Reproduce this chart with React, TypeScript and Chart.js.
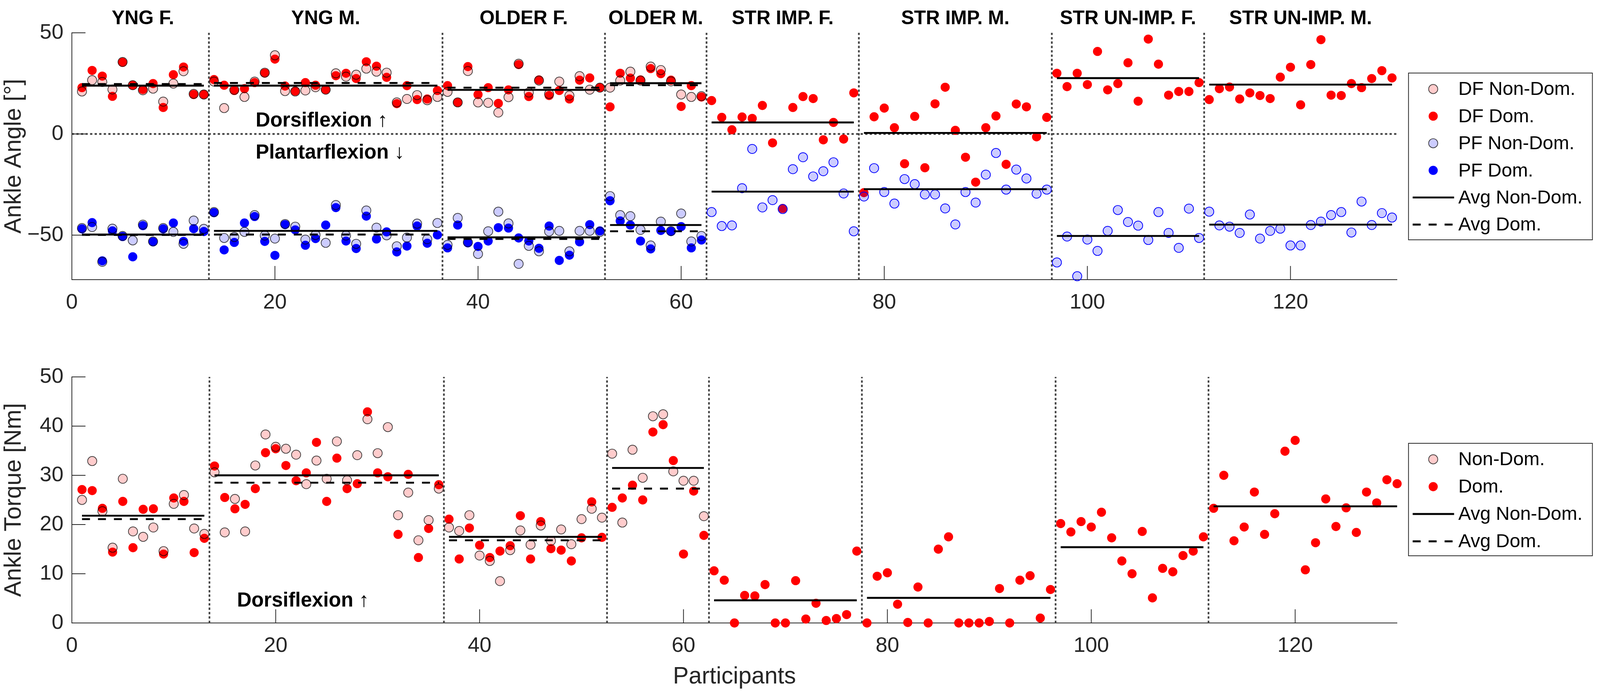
import React, { useEffect, useRef, useState } from "react";
import { Chart, registerables } from "chart.js";

Chart.register(...registerables);

// ---------------- DATA ----------------
const GROUP_NAMES = ["YNG F.", "YNG M.", "OLDER F.", "OLDER M.", "STR IMP. F.", "STR IMP. M.", "STR UN-IMP. F.", "STR UN-IMP. M."];
const GROUP_START = [1, 14, 37, 53, 63, 78, 97, 112];
const GROUP_END = [13, 36, 52, 62, 77, 96, 111, 130];
const DIVIDERS = [13.5, 36.5, 52.5, 62.5, 77.5, 96.5, 111.5];
const X_TICKS = [0, 20, 40, 60, 80, 100, 120];
const ANGLE_TICKS = [-50, 0, 50];
const TORQUE_TICKS = [0, 10, 20, 30, 40, 50];

// Ankle angle, dorsiflexion, non-dominant (participants 1-62)
const DF_NONDOM = [
  21.0, 26.6, 25.7, 22.0, 35.6, 24.1, 21.6, 22.4, 16.0, 24.9, 31.0, 19.8, 19.5,
  25.9, 12.8, 21.8, 18.3, 25.9, 30.3, 38.9, 21.2, 21.0, 21.5, 23.1, 21.9, 30.0, 28.3, 29.3, 32.3, 30.8, 30.3, 15.6, 17.3, 19.2, 16.7, 18.3,
  20.8, 15.6, 31.1, 15.6, 15.4, 10.6, 18.2, 34.7, 20.5, 26.4, 19.8, 25.9, 19.0, 28.6, 21.9, 22.9,
  22.9, 26.4, 30.8, 26.4, 33.3, 31.6, 26.0, 19.5, 18.3, 18.7,
];
// Ankle angle, dorsiflexion, dominant (participants 1-130)
const DF_DOM = [
  22.9, 31.4, 28.6, 18.6, 35.4, 24.1, 22.0, 24.9, 13.1, 29.3, 33.1, 19.5, 19.5,
  26.9, 24.1, 21.5, 22.4, 25.4, 30.1, 37.0, 23.7, 21.2, 25.4, 24.1, 21.9, 28.8, 30.0, 27.4, 35.7, 33.5, 28.0, 15.0, 23.9, 17.0, 17.3, 21.5,
  23.9, 15.6, 33.3, 19.5, 22.9, 15.1, 21.8, 34.3, 18.5, 26.7, 19.0, 21.5, 17.3, 26.6, 27.7, 22.9,
  13.4, 30.0, 27.6, 26.7, 32.3, 29.8, 26.6, 13.6, 23.9, 18.3,
  16.5, 8.2, 2.1, 8.4, 7.7, 14.1, -4.4, -36.8, 13.1, 18.5, 17.5, -2.9, 5.7, -2.5, 20.3,
  -29.0, 8.5, 12.8, 3.1, -14.7, 8.7, -16.7, 14.9, 23.1, 1.8, -11.5, -23.8, 3.1, 8.9, -15.0, 14.8, 13.4, -1.4, 8.2,
  30.0, 23.4, 30.0, 24.4, 40.8, 21.8, 24.9, 35.2, 16.2, 46.9, 34.5, 19.2, 21.0, 21.0, 25.4,
  17.0, 22.4, 23.2, 17.3, 20.3, 19.0, 17.5, 28.1, 33.0, 14.4, 34.3, 46.6, 19.2, 19.0, 24.9, 22.9, 27.4, 31.3, 27.7,
];
// Ankle angle, plantarflexion, non-dominant (participants 1-130)
const PF_NONDOM = [
  -46.5, -46.0, -63.2, -46.8, -50.4, -52.6, -44.8, -53.1, -46.5, -48.4, -54.3, -42.8, -46.9,
  -38.6, -51.4, -50.9, -48.4, -40.1, -50.2, -51.7, -44.5, -45.8, -52.2, -49.9, -53.8, -35.1, -50.2, -54.3, -37.8, -46.3, -50.1, -55.5, -51.2, -44.3, -52.0, -44.0,
  -54.8, -41.5, -53.5, -59.3, -48.1, -38.4, -44.2, -64.2, -55.3, -58.0, -48.2, -47.9, -58.0, -47.9, -47.9, -48.4,
  -30.7, -40.1, -40.6, -47.4, -55.1, -43.3, -48.0, -39.3, -53.1, -50.4,
  -38.6, -45.5, -45.2, -26.8, -7.4, -36.3, -32.7, -37.1, -17.4, -11.5, -21.0, -18.4, -14.0, -29.4, -48.1,
  -30.9, -16.9, -28.7, -34.4, -22.3, -24.8, -29.9, -29.9, -36.8, -44.7, -28.7, -33.9, -20.1, -9.4, -27.5, -17.6, -22.0, -29.5, -27.5,
  -63.5, -50.7, -70.3, -52.2, -57.8, -47.9, -37.6, -43.5, -45.3, -52.4, -38.6, -48.9, -56.3, -36.9, -51.4,
  -38.4, -45.2, -45.8, -48.9, -39.8, -51.7, -47.9, -46.8, -55.1, -55.1, -45.0, -43.3, -40.1, -38.6, -48.7, -33.4, -45.0, -39.1, -41.3,
];
// Ankle angle, plantarflexion, dominant (participants 1-62)
const PF_DOM = [
  -46.9, -43.8, -62.7, -47.9, -50.7, -60.7, -45.3, -53.3, -46.9, -44.0, -53.1, -46.8, -48.2,
  -38.9, -57.3, -53.6, -44.0, -40.8, -53.1, -60.0, -44.8, -47.4, -55.0, -51.7, -45.0, -36.4, -52.9, -56.6, -40.6, -51.9, -48.4, -58.3, -55.4, -45.5, -54.0, -49.9,
  -56.3, -45.0, -53.8, -55.6, -52.9, -46.3, -46.5, -51.4, -52.9, -56.5, -45.5, -62.5, -59.9, -53.3, -44.8, -47.9,
  -33.0, -43.0, -45.0, -52.9, -56.8, -47.7, -48.2, -45.8, -56.3, -52.4,
];
// Group averages for the angle panel
const DF_AVG_NONDOM = [23.9, 23.9, 21.8, 25.1, 5.7, 0.5, 27.6, 24.4];
const DF_AVG_DOM = [24.7, 25.2, 22.9, 24.1, null, null, null, null];
const PF_AVG_NONDOM = [-49.7, -47.9, -51.1, -45.0, -28.5, -27.3, -50.4, -44.8];
const PF_AVG_DOM = [-49.9, -49.7, -51.9, -48.1, null, null, null, null];

// Ankle torque, non-dominant (participants 1-62)
const TQ_NONDOM = [
  25.0, 32.9, 22.7, 15.3, 29.3, 18.6, 17.5, 19.4, 14.6, 24.2, 26.0, 19.2, 18.1,
  30.6, 18.4, 25.2, 18.6, 32.0, 38.3, 35.8, 35.4, 34.2, 28.2, 33.0, 29.3, 36.9, 29.0, 34.1, 41.4, 34.5, 39.8, 21.9, 26.5, 16.8, 20.9, 27.3,
  19.4, 18.7, 21.9, 13.7, 12.6, 8.5, 14.8, 18.8, 15.9, 19.8, 16.7, 19.0, 16.0, 21.1, 23.2, 21.4,
  34.4, 20.4, 35.2, 29.5, 42.0, 42.4, 30.8, 28.9, 28.9, 21.7,
];
// Ankle torque, dominant (participants 1-130)
const TQ_DOM = [
  27.1, 26.9, 23.3, 14.4, 24.7, 15.3, 23.1, 23.2, 14.0, 25.4, 24.7, 14.3, 17.2,
  31.9, 25.5, 23.2, 24.1, 27.3, 34.6, 35.4, 32.0, 28.9, 30.5, 36.7, 24.7, 33.5, 27.3, 28.3, 42.9, 30.5, 29.7, 18.0, 30.2, 13.3, 19.2, 28.1,
  21.1, 13.0, 19.3, 15.8, 13.3, 14.6, 15.7, 21.8, 13.0, 20.6, 15.1, 14.8, 12.6, 17.3, 24.6, 17.4,
  23.5, 25.4, 28.0, 25.0, 38.8, 40.3, 33.0, 14.0, 26.8, 17.8,
  10.6, 8.7, 0, 5.6, 5.5, 7.8, 0, 0, 8.6, 0.8, 4.0, 0.5, 0.9, 1.7, 14.6,
  0, 9.5, 10.2, 3.8, 0.1, 7.3, 0, 15.0, 17.5, 0, 0, 0, 0.3, 7.0, 0, 8.7, 9.6, 1.0, 6.8,
  20.2, 18.5, 20.6, 19.5, 22.5, 17.3, 12.6, 10.0, 18.6, 5.1, 11.1, 10.4, 13.7, 14.6, 17.5,
  23.3, 30.0, 16.7, 19.5, 26.6, 18.0, 22.2, 34.9, 37.1, 10.8, 16.3, 25.2, 19.6, 23.4, 18.4, 26.6, 24.4, 29.1, 28.3,
];
const TQ_AVG_NONDOM = [21.8, 30.0, 17.5, 31.5, 4.6, 5.1, 15.4, 23.7];
const TQ_AVG_DOM = [21.1, 28.5, 16.8, 27.3, null, null, null, null];

const LEGEND_TOP = ["DF Non-Dom.", "DF Dom.", "PF Non-Dom.", "PF Dom.", "Avg Non-Dom.", "Avg Dom."];
const LEGEND_BOTTOM = ["Non-Dom.", "Dom.", "Avg Non-Dom.", "Avg Dom."];

// ---------------- STYLE ----------------
const FONT = "'Liberation Sans', Arial, Helvetica, sans-serif";
const AXIS_COLOR = "#262626";
const RED = "#FF0000";
const BLUE = "#0000FF";
const PINK_FILL = "rgba(255,0,0,0.2)";
const LAV_FILL = "rgba(0,0,255,0.2)";
const EDGE = "rgba(0,0,0,0.72)";
const DOT_COLOR = "#444444";
const REF_W = 4211;
const REF_H = 1782;

type Geo = { W: number; H: number; sx: number; sy: number; s: number };

function getGeo(): Geo {
  const W = Math.min(REF_W, window.innerWidth || REF_W);
  const H = Math.min(REF_H, window.innerHeight || REF_H);
  const sx = W / REF_W;
  const sy = H / REF_H;
  return { W, H, sx, sy, s: Math.min(sx, sy) };
}

const pts = (arr: (number | null)[]) => arr.map((v, i) => ({ x: i + 1, y: v }));

function avgSegments(...lists: (number | null)[][]) {
  const out: { x: number; y: number | null }[] = [];
  lists.forEach((list) => {
    list.forEach((v, i) => {
      if (v === null) return;
      out.push({ x: GROUP_START[i], y: v });
      out.push({ x: GROUP_END[i], y: v });
      out.push({ x: GROUP_END[i], y: null });
    });
  });
  return out;
}

function dividerSegments(yMin: number, yMax: number) {
  const out: { x: number; y: number | null }[] = [];
  DIVIDERS.forEach((d) => {
    out.push({ x: d, y: yMin });
    out.push({ x: d, y: yMax });
    out.push({ x: d, y: null });
  });
  return out;
}

const minusFmt = (v: any) => {
  const n = Number(v);
  return n < 0 ? "\u2212" + Math.abs(n) : String(n);
};

function scatterDs(g: Geo, label: string, data: any[], bg: any, border: any, bw: number) {
  const r = 12 * g.s;
  return {
    type: "scatter" as const,
    label,
    data,
    pointRadius: r,
    pointHoverRadius: r,
    pointBackgroundColor: bg,
    pointBorderColor: border,
    pointBorderWidth: bw * g.s,
    pointStyle: "circle",
    showLine: false,
    clip: 20,
  };
}

function lineDs(g: Geo, label: string, data: any[], color: string, width: number, dash: number[]) {
  return {
    type: "line" as const,
    label,
    data,
    borderColor: color,
    borderWidth: width * g.s,
    borderDash: dash.map((d) => d * g.s),
    borderCapStyle: "butt",
    pointRadius: 0,
    pointHoverRadius: 0,
    fill: false,
    spanGaps: false,
    tension: 0,
    clip: 10,
  };
}

function inwardTicks(g: Geo) {
  return {
    id: "inwardTicks",
    afterDatasetsDraw(chart: any) {
      const { ctx, chartArea, scales } = chart;
      const x = scales.x;
      const y = scales.y;
      ctx.save();
      ctx.strokeStyle = AXIS_COLOR;
      ctx.lineWidth = 2 * g.s;
      ctx.beginPath();
      x.ticks.forEach((t: any) => {
        const px = x.getPixelForValue(t.value);
        if (Math.abs(px - chartArea.left) < 2) return;
        ctx.moveTo(px, chartArea.bottom);
        ctx.lineTo(px, chartArea.bottom - 35 * g.sy);
      });
      y.ticks.forEach((t: any) => {
        const py = y.getPixelForValue(t.value);
        if (Math.abs(py - chartArea.bottom) < 2) return;
        ctx.moveTo(chartArea.left, py);
        ctx.lineTo(chartArea.left + 36 * g.sx, py);
      });
      ctx.stroke();
      ctx.restore();
    },
  };
}

type LegendItem = { label: string; kind: "marker" | "line"; fill?: string; stroke?: string; dash?: number[] };

function drawLegend(g: Geo, ctx: CanvasRenderingContext2D, box: { x: number; y: number; w: number; h: number }, items: LegendItem[], row0: number, step: number) {
  const X = (v: number) => v * g.sx;
  const Y = (v: number) => v * g.sy;
  ctx.save();
  ctx.fillStyle = "#ffffff";
  ctx.fillRect(X(box.x), Y(box.y), X(box.w), Y(box.h));
  ctx.strokeStyle = AXIS_COLOR;
  ctx.lineWidth = 2 * g.s;
  ctx.setLineDash([]);
  ctx.strokeRect(X(box.x), Y(box.y), X(box.w), Y(box.h));
  items.forEach((it, i) => {
    const cy = Y(row0 + step * i);
    if (it.kind === "marker") {
      ctx.beginPath();
      ctx.arc(X(box.x + 65), cy, 12 * g.s, 0, Math.PI * 2);
      ctx.fillStyle = it.fill!;
      ctx.fill();
      if (it.stroke) {
        ctx.strokeStyle = it.stroke;
        ctx.lineWidth = 2 * g.s;
        ctx.stroke();
      }
    } else {
      ctx.beginPath();
      ctx.strokeStyle = "#000";
      ctx.lineWidth = 5 * g.s;
      ctx.lineCap = "butt";
      ctx.setLineDash((it.dash || []).map((d) => d * g.s));
      ctx.moveTo(X(box.x + 11), cy);
      ctx.lineTo(X(box.x + 120), cy);
      ctx.stroke();
      ctx.setLineDash([]);
    }
    ctx.fillStyle = "#000";
    ctx.font = `${50 * g.s}px ${FONT}`;
    ctx.textAlign = "left";
    ctx.textBaseline = "middle";
    ctx.fillText(it.label, X(box.x + 131), cy + 2 * g.sy);
  });
  ctx.restore();
}

function baseScales(g: Geo, xMax: number, yMin: number, yMax: number, yTicks: number[], yTitle: string, xTitle: string | null, xHeight: number) {
  return {
    x: {
      type: "linear" as const,
      min: 0,
      max: xMax,
      afterBuildTicks: (sc: any) => {
        sc.ticks = X_TICKS.map((v) => ({ value: v }));
      },
      afterFit: (sc: any) => {
        sc.height = xHeight * g.sy;
      },
      grid: { display: false, drawTicks: false },
      border: { display: true, color: AXIS_COLOR, width: 2 * g.s },
      ticks: { font: { size: 56 * g.s, family: FONT }, color: AXIS_COLOR, padding: 26 * g.sy, maxRotation: 0, autoSkip: false, callback: minusFmt },
      title: xTitle
        ? { display: true, text: xTitle, font: { size: 62 * g.s, family: FONT }, color: AXIS_COLOR, padding: { top: 0, bottom: 12 * g.sy } }
        : { display: false },
    },
    y: {
      type: "linear" as const,
      min: yMin,
      max: yMax,
      afterBuildTicks: (sc: any) => {
        sc.ticks = yTicks.map((v) => ({ value: v }));
      },
      afterFit: (sc: any) => {
        sc.width = 189 * g.sx;
      },
      grid: { display: false, drawTicks: false },
      border: { display: true, color: AXIS_COLOR, width: 2 * g.s },
      ticks: { font: { size: 56 * g.s, family: FONT }, color: AXIS_COLOR, padding: 22 * g.sx, autoSkip: false, callback: minusFmt },
      title: { display: true, text: yTitle, font: { size: 62 * g.s, family: FONT }, color: AXIS_COLOR, padding: { top: 0, bottom: 0 } },
    },
  };
}

function topConfig(g: Geo): any {
  const yMin = -72;
  const yMax = 50;
  const xMax = 130.5;
  const overlay = {
    id: "topOverlay",
    afterDraw(chart: any) {
      const { ctx, scales } = chart;
      const x = scales.x;
      const y = scales.y;
      ctx.save();
      ctx.fillStyle = "#000";
      ctx.font = `bold ${51 * g.s}px ${FONT}`;
      ctx.textAlign = "center";
      ctx.textBaseline = "alphabetic";
      GROUP_NAMES.forEach((name, i) => {
        ctx.fillText(name, x.getPixelForValue((GROUP_START[i] + GROUP_END[i]) / 2), 62 * g.sy);
      });
      ctx.font = `bold ${53 * g.s}px ${FONT}`;
      ctx.textAlign = "left";
      ctx.fillText("Dorsiflexion \u2191", x.getPixelForValue(18.1), y.getPixelForValue(3.7));
      ctx.fillText("Plantarflexion \u2193", x.getPixelForValue(18.1), y.getPixelForValue(-12.1));
      ctx.restore();
      drawLegend(
        g,
        ctx,
        { x: 3707, y: 187, w: 484, h: 427 },
        [
          { label: LEGEND_TOP[0], kind: "marker", fill: "#FFCCCC", stroke: EDGE },
          { label: LEGEND_TOP[1], kind: "marker", fill: RED },
          { label: LEGEND_TOP[2], kind: "marker", fill: "#CCCCFF", stroke: EDGE },
          { label: LEGEND_TOP[3], kind: "marker", fill: BLUE },
          { label: LEGEND_TOP[4], kind: "line" },
          { label: LEGEND_TOP[5], kind: "line", dash: [21, 21] },
        ],
        228,
        69.4
      );
    },
  };
  return {
    type: "scatter",
    data: {
      datasets: [
        lineDs(g, "Avg Dom.", avgSegments(DF_AVG_DOM, PF_AVG_DOM), "#000", 5, [21, 21]),
        lineDs(g, "Avg Non-Dom.", avgSegments(DF_AVG_NONDOM, PF_AVG_NONDOM), "#000", 5, []),
        scatterDs(g, "PF Non-Dom.", pts(PF_NONDOM), LAV_FILL, (c: any) => (c.raw && c.raw.x > DIVIDERS[3] ? BLUE : EDGE), 2),
        scatterDs(g, "PF Dom.", pts(PF_DOM), BLUE, BLUE, 0),
        scatterDs(g, "DF Non-Dom.", pts(DF_NONDOM), PINK_FILL, EDGE, 2),
        scatterDs(g, "DF Dom.", pts(DF_DOM), RED, RED, 0),
        lineDs(g, "dividers", dividerSegments(yMin, yMax), DOT_COLOR, 4.5, [6, 5.5]),
        lineDs(g, "zero", [{ x: 0, y: 0 }, { x: xMax, y: 0 }], DOT_COLOR, 4.5, [6, 6]),
      ],
    },
    options: {
      responsive: false,
      animation: false,
      devicePixelRatio: 1,
      events: [],
      layout: { padding: { left: 0, top: 84 * g.sy, right: (REF_W - 3677) * g.sx, bottom: 0 } },
      plugins: { legend: { display: false }, tooltip: { enabled: false }, title: { display: false } },
      scales: baseScales(g, xMax, yMin, yMax, ANGLE_TICKS, "Ankle Angle [\u00B0]", null, 84),
    },
    plugins: [inwardTicks(g), overlay],
  };
}

function bottomConfig(g: Geo): any {
  const yMin = 0;
  const yMax = 50;
  const xMax = 130;
  const overlay = {
    id: "bottomOverlay",
    afterDraw(chart: any) {
      const { ctx, scales } = chart;
      const x = scales.x;
      const y = scales.y;
      ctx.save();
      ctx.fillStyle = "#000";
      ctx.font = `bold ${53 * g.s}px ${FONT}`;
      ctx.textAlign = "left";
      ctx.textBaseline = "alphabetic";
      ctx.fillText("Dorsiflexion \u2191", x.getPixelForValue(16.2), y.getPixelForValue(3.3));
      ctx.restore();
      drawLegend(
        g,
        ctx,
        { x: 3707, y: 335, w: 484, h: 288 },
        [
          { label: LEGEND_BOTTOM[0], kind: "marker", fill: "#FFCCCC", stroke: EDGE },
          { label: LEGEND_BOTTOM[1], kind: "marker", fill: RED },
          { label: LEGEND_BOTTOM[2], kind: "line" },
          { label: LEGEND_BOTTOM[3], kind: "line", dash: [21, 21] },
        ],
        376,
        70
      );
    },
  };
  return {
    type: "scatter",
    data: {
      datasets: [
        lineDs(g, "Avg Dom.", avgSegments(TQ_AVG_DOM), "#000", 5, [21, 21]),
        lineDs(g, "Avg Non-Dom.", avgSegments(TQ_AVG_NONDOM), "#000", 5, []),
        scatterDs(g, "Non-Dom.", pts(TQ_NONDOM), PINK_FILL, EDGE, 2),
        scatterDs(g, "Dom.", pts(TQ_DOM), RED, RED, 0),
        lineDs(g, "dividers", dividerSegments(yMin, yMax), DOT_COLOR, 4.5, [6, 5.5]),
      ],
    },
    options: {
      responsive: false,
      animation: false,
      devicePixelRatio: 1,
      events: [],
      layout: { padding: { left: 0, top: 165 * g.sy, right: (REF_W - 3677) * g.sx, bottom: 0 } },
      plugins: { legend: { display: false }, tooltip: { enabled: false }, title: { display: false } },
      scales: baseScales(g, xMax, yMin, yMax, TORQUE_TICKS, "Ankle Torque [Nm]", "Participants", 187),
    },
    plugins: [inwardTicks(g), overlay],
  };
}

export default function App() {
  const [geo] = useState<Geo>(() => getGeo());
  const topRef = useRef<HTMLCanvasElement>(null);
  const botRef = useRef<HTMLCanvasElement>(null);
  const topH = Math.round(800 * geo.sy);
  const botTop = topH;
  const botH = Math.round(geo.H) - topH;
  useEffect(() => {
    const top = new Chart(topRef.current as HTMLCanvasElement, topConfig(geo));
    const bot = new Chart(botRef.current as HTMLCanvasElement, bottomConfig(geo));
    return () => {
      top.destroy();
      bot.destroy();
    };
  }, [geo]);
  const W = Math.round(geo.W);
  return (
    <div style={{ position: "fixed", left: 0, top: 0, width: W, height: Math.round(geo.H), background: "#ffffff", overflow: "hidden" }}>
      <canvas ref={topRef} width={W} height={topH} style={{ position: "absolute", left: 0, top: 0, width: W, height: topH, display: "block" }} />
      <canvas ref={botRef} width={W} height={botH} style={{ position: "absolute", left: 0, top: botTop, width: W, height: botH, display: "block" }} />
    </div>
  );
}
